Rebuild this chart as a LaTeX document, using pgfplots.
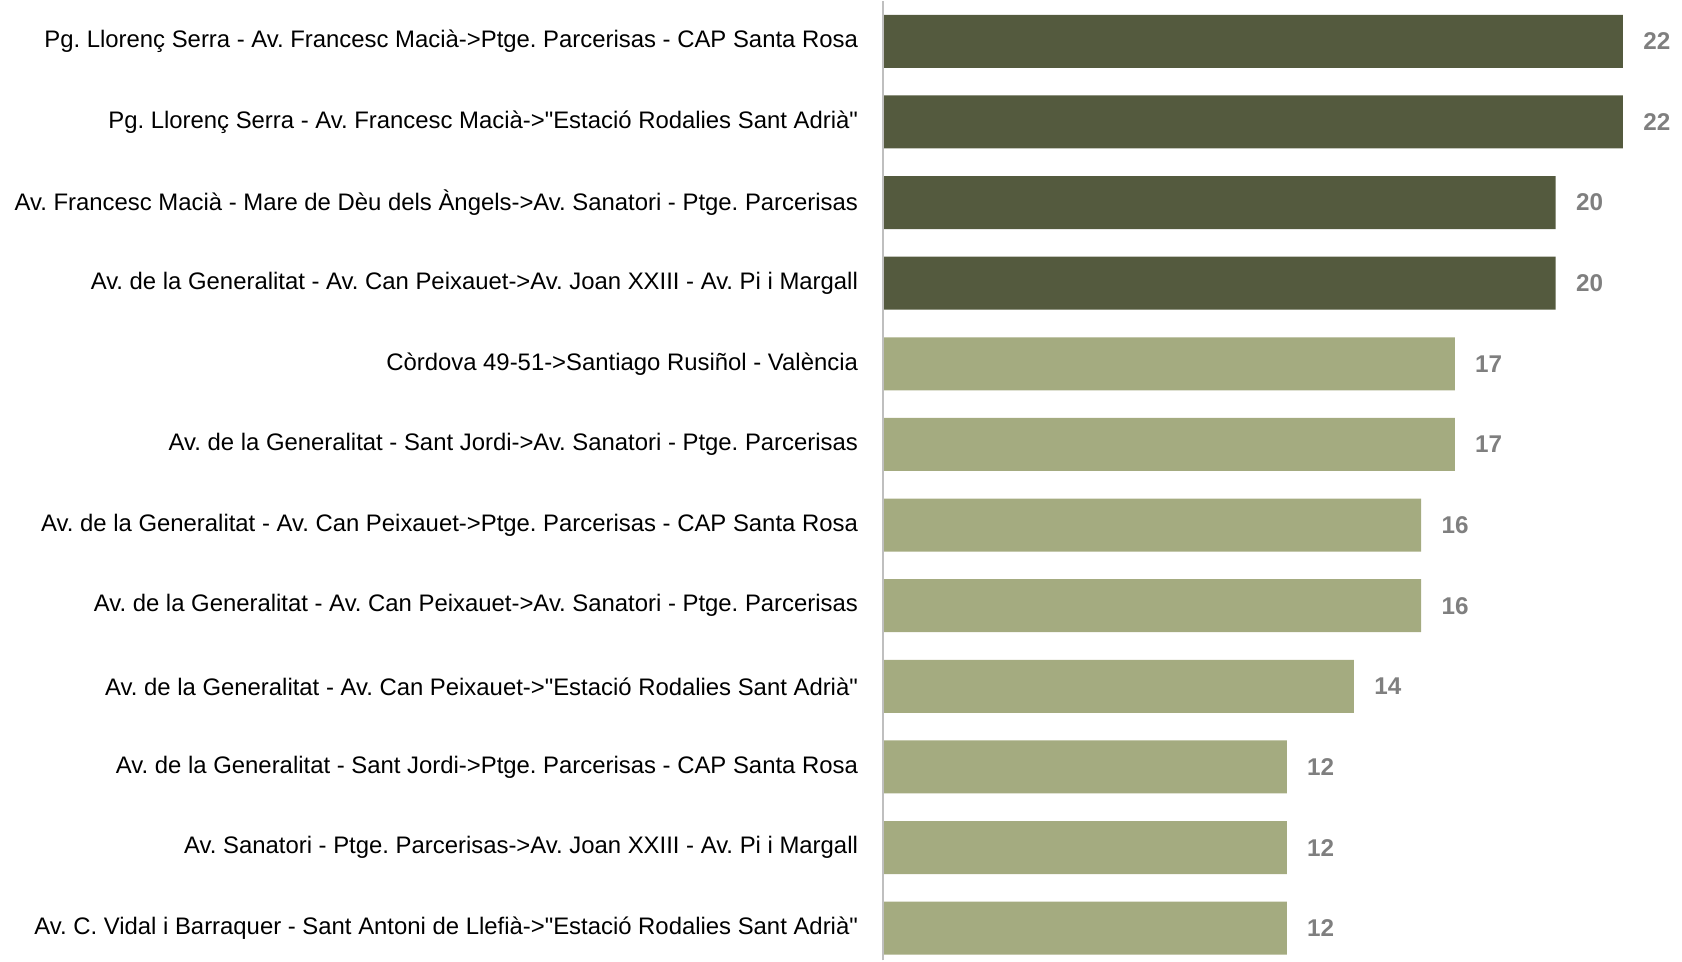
\documentclass[border={0.3mm 0pt 0pt 0pt}]{standalone}
\usepackage{pgfplots}
\pgfplotsset{compat=1.18}
\usepackage{fontspec}
\setmainfont{Liberation Sans}[Ligatures=TeXOff]
\frenchspacing
\definecolor{darkolive}{HTML}{545A3E}
\definecolor{lightolive}{HTML}{A4AB80}
\definecolor{valgray}{HTML}{7F7F7F}
\definecolor{axgray}{HTML}{BFBFBF}

\begin{document}
\begin{tikzpicture}
\begin{axis}[
  xbar, bar width=5.3mm, bar shift=0pt,
  width=74mm, height=96.0mm, scale only axis,
  xmin=0, xmax=22, ymin=-0.5, ymax=11.4, y dir=reverse,
  axis line style={draw=none}, major tick length=0pt,
  xtick=\empty,
  ytick={0,...,11},
  yticklabels={
    {Pg. Llorenç Serra - Av. Francesc Macià->Ptge. Parcerisas - CAP Santa Rosa},
    {Pg. Llorenç Serra - Av. Francesc Macià->"Estació Rodalies Sant Adrià"},
    {Av. Francesc Macià - Mare de Dèu dels Àngels->Av. Sanatori - Ptge. Parcerisas},
    {Av. de la Generalitat - Av. Can Peixauet->Av. Joan XXIII - Av. Pi i Margall},
    {Còrdova 49-51->Santiago Rusiñol - València},
    {Av. de la Generalitat - Sant Jordi->Av. Sanatori - Ptge. Parcerisas},
    {Av. de la Generalitat - Av. Can Peixauet->Ptge. Parcerisas - CAP Santa Rosa},
    {Av. de la Generalitat - Av. Can Peixauet->Av. Sanatori - Ptge. Parcerisas},
    {Av. de la Generalitat - Av. Can Peixauet->"Estació Rodalies Sant Adrià"},
    {Av. de la Generalitat - Sant Jordi->Ptge. Parcerisas - CAP Santa Rosa},
    {Av. Sanatori - Ptge. Parcerisas->Av. Joan XXIII - Av. Pi i Margall},
    {Av. C. Vidal i Barraquer - Sant Antoni de Llefià->"Estació Rodalies Sant Adrià"}
  },
  y tick label style={font=\fontsize{6.8}{8}\selectfont, xshift=-1.3mm},
  /pgf/number format/assume math mode=true,
  nodes near coords,
  nodes near coords style={font=\fontsize{6.9}{8}\selectfont\bfseries, text=valgray, anchor=west, xshift=0.8mm},
  clip=false,
]
\addplot[fill=darkolive, draw=none] coordinates {(22,0) (22,1) (20,2) (20,3)};
\addplot[fill=lightolive, draw=none] coordinates {(17,4) (17,5) (16,6) (16,7) (14,8) (12,9) (12,10) (12,11)};
\draw[axgray, line width=0.2mm] (rel axis cs:0,0) -- (rel axis cs:0,1);
\end{axis}
\end{tikzpicture}
\end{document}
